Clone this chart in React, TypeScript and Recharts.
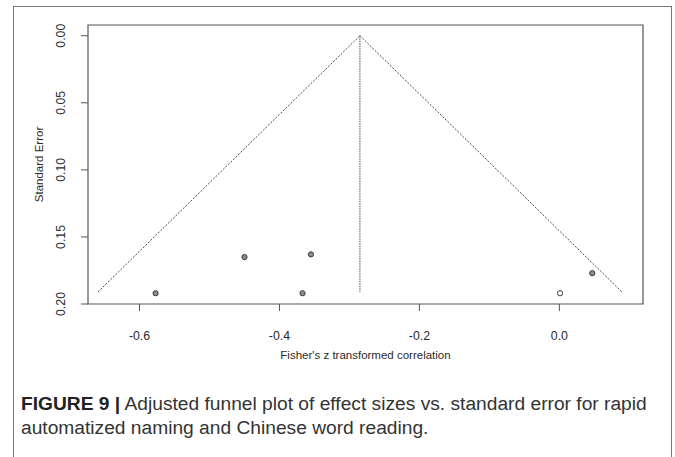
import {
  ScatterChart,
  Scatter,
  XAxis,
  YAxis,
  ReferenceArea,
  ReferenceLine,
  Label,
} from "recharts";

// observed studies (Fisher's z, SE)
const studyZ = [-0.577, -0.45, -0.367, -0.355, 0.047];
const studySE = [0.192, 0.165, 0.192, 0.163, 0.177];
// imputed by trim and fill
const filledZ = [0.001];
const filledSE = [0.192];

const pooledZ = -0.285;
const maxSE = 0.191;

const xTicks = [-0.6, -0.4, -0.2, 0.0];
const yTicks = [0.0, 0.05, 0.1, 0.15, 0.2];
const X_DOMAIN: [number, number] = [-0.6736, 0.1195];
const Y_DOMAIN: [number, number] = [-0.008, 0.2];

const FONT = "'Liberation Sans', Arial, sans-serif";
const INK = "#2a2a2a";

const observed = studyZ.map((z, i) => ({ z, se: studySE[i] }));
const imputed = filledZ.map((z, i) => ({ z, se: filledSE[i] }));

function Dot(fill: string) {
  return (props: any) => (
    <circle cx={props.cx} cy={props.cy} r={2.6} fill={fill} stroke="#3a3a3a" strokeWidth={1} />
  );
}

function XTick({ x, y, payload }: any) {
  return (
    <text x={x} y={y + 27} textAnchor="middle" fontSize={12.3} fontFamily={FONT} fill={INK}>
      {payload.value === 0 ? "0.0" : payload.value.toFixed(1)}
    </text>
  );
}

function YTick({ x, y, payload }: any) {
  const tx = x - 14;
  return (
    <text
      x={tx}
      y={y}
      transform={`rotate(-90, ${tx}, ${y})`}
      textAnchor="middle"
      fontSize={12.3}
      fontFamily={FONT}
      fill={INK}
    >
      {payload.value.toFixed(2)}
    </text>
  );
}

function YTitle({ viewBox }: any) {
  const cx = 43;
  const cy = viewBox.y + viewBox.height / 2;
  return (
    <text
      x={cx}
      y={cy}
      transform={`rotate(-90, ${cx}, ${cy})`}
      textAnchor="middle"
      fontSize={11.5}
      fontFamily={FONT}
      fill={INK}
    >
      Standard Error
    </text>
  );
}

function XTitle({ viewBox }: any) {
  return (
    <text
      x={viewBox.x + viewBox.width / 2}
      y={359}
      textAnchor="middle"
      fontSize={11.5}
      fontFamily={FONT}
      fill={INK}
    >
      Fisher's z transformed correlation
    </text>
  );
}

export default function App() {
  const half = 1.96 * maxSE;
  const lineStyle = { stroke: "#4a4a4a", strokeWidth: 1, strokeDasharray: "2 1.5" };

  return (
    <div style={{ position: "absolute", left: 0, top: 0, width: 675, height: 457, background: "#fff" }}>
      <div
        style={{
          position: "absolute",
          left: 13,
          top: 6,
          width: 657,
          height: 470,
          border: "1px solid #777",
          borderBottom: "none",
        }}
      />
      <div style={{ position: "absolute", left: 0, top: 0 }}>
        <ScatterChart width={675} height={380} margin={{ top: 25, right: 32, left: 28, bottom: 16 }}>
          <XAxis
            type="number"
            dataKey="z"
            domain={X_DOMAIN}
            ticks={xTicks}
            allowDataOverflow
            axisLine={false}
            tickLine={{ stroke: "#555" }}
            tickSize={7}
            tick={<XTick />}
            height={60}
          >
            <Label content={<XTitle />} />
          </XAxis>
          <YAxis
            type="number"
            dataKey="se"
            domain={Y_DOMAIN}
            ticks={yTicks}
            reversed
            allowDataOverflow
            axisLine={false}
            tickLine={{ stroke: "#555" }}
            tickSize={7}
            tick={<YTick />}
            width={60}
          >
            <Label content={<YTitle />} />
          </YAxis>
          <ReferenceArea
            x1={X_DOMAIN[0]}
            x2={X_DOMAIN[1]}
            y1={Y_DOMAIN[0]}
            y2={Y_DOMAIN[1]}
            fill="none"
            stroke="#555"
            strokeWidth={1.2}
          />
          <ReferenceLine
            segment={[
              { x: pooledZ - half, y: maxSE },
              { x: pooledZ, y: 0 },
            ]}
            {...lineStyle}
          />
          <ReferenceLine
            segment={[
              { x: pooledZ, y: 0 },
              { x: pooledZ + half, y: maxSE },
            ]}
            {...lineStyle}
          />
          <ReferenceLine
            segment={[
              { x: pooledZ, y: 0 },
              { x: pooledZ, y: maxSE },
            ]}
            stroke="#4a4a4a"
            strokeWidth={1}
            strokeDasharray="1.5 1"
          />
          <Scatter data={observed} shape={Dot("#8c8c8c")} isAnimationActive={false} />
          <Scatter data={imputed} shape={Dot("#ffffff")} isAnimationActive={false} />
        </ScatterChart>
      </div>
      <div
        style={{
          position: "absolute",
          left: 21,
          top: 392,
          fontFamily: FONT,
          fontSize: 19.2,
          lineHeight: "24px",
          color: "#333",
          whiteSpace: "nowrap",
        }}
      >
        <b style={{ color: "#222" }}>FIGURE 9 |</b> Adjusted funnel plot of effect sizes vs. standard error for rapid
        <br />
        automatized naming and Chinese word reading.
      </div>
    </div>
  );
}
